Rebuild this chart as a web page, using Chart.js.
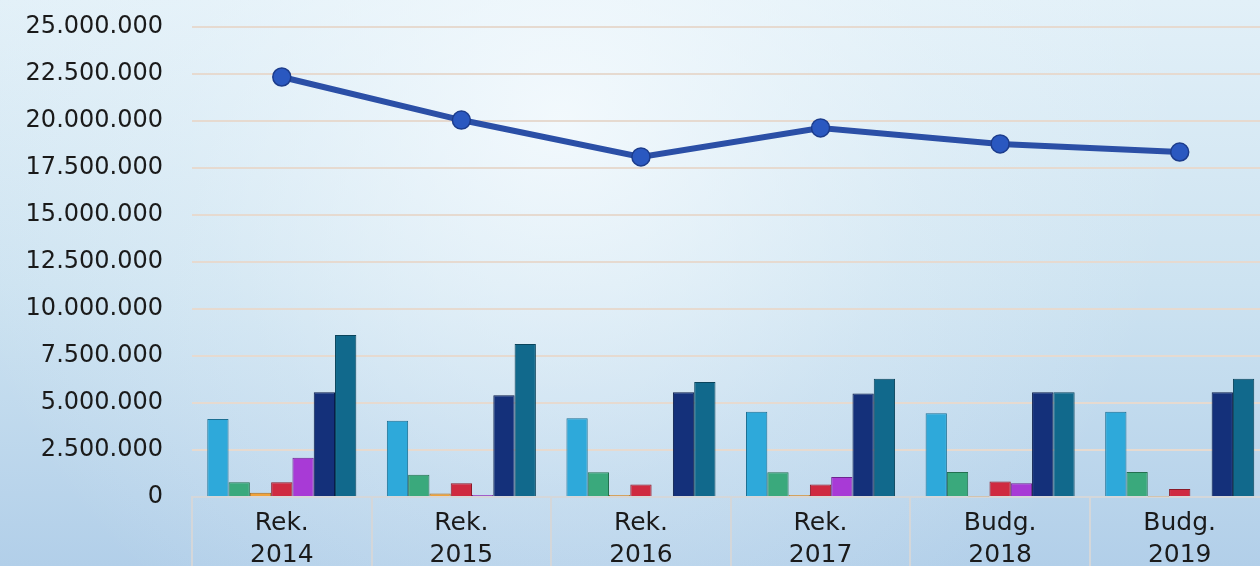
<!DOCTYPE html>
<html>
<head>
<meta charset="utf-8">
<script src="https://cdn.jsdelivr.net/npm/chart.js@4.4.1/dist/chart.umd.min.js"></script>
<style>
  html, body { margin: 0; padding: 0; overflow: hidden; background: #d6e8f4; }
  #wrap { width: 1280px; height: 566px; position: relative; }
</style>
</head>
<body>
<div id="wrap"><canvas id="chart"></canvas></div>
<script>
const categories = [["Rek.", "2014"], ["Rek.", "2015"], ["Rek.", "2016"], ["Rek.", "2017"], ["Budg.", "2018"], ["Budg.", "2019"]];

const serieA = [4150000, 4060000, 4190000, 4540000, 4450000, 4540000];
const serieB = [780000, 1190000, 1310000, 1310000, 1330000, 1330000];
const serieC = [230000, 180000, 100000, 100000, 30000, 30000];
const serieD = [780000, 730000, 670000, 660000, 830000, 430000];
const serieE = [2090000, 100000, 0, 1060000, 730000, 0];
const serieF = [5570000, 5410000, 5570000, 5500000, 5570000, 5570000];
const serieG = [8620000, 8140000, 6120000, 6290000, 5570000, 6290000];
const total = [22340000, 20050000, 18090000, 19630000, 18780000, 18350000];

const yMax = 25000000;
const yStep = 2500000;

const barColors = ["#2ea9da", "#3aa97c", "#f0a23a", "#cf2a40", "#a83ad6", "#14307a", "#11698c"];
const barBorders = ["#1b6f93", "#23704f", "#a56a1c", "#8a1a28", "#6d2490", "#0a1c4a", "#0a445c"];

function formatDots(v) {
  return String(Math.round(v)).replace(/\B(?=(\d{3})+(?!\d))/g, ".");
}

function barGradient(i) {
  return function (context) {
    const chart = context.chart;
    const el = context.element;
    if (!chart.chartArea || !el || el.width === undefined) return barColors[i];
    const x0 = el.x - el.width / 2;
    const g = chart.ctx.createLinearGradient(x0, 0, x0 + el.width, 0);
    g.addColorStop(0, barBorders[i]);
    g.addColorStop(0.18, barColors[i]);
    g.addColorStop(0.82, barColors[i]);
    g.addColorStop(1, barBorders[i]);
    return g;
  };
}

const backgroundPlugin = {
  id: "bg",
  beforeDraw(chart) {
    const { ctx, width, height } = chart;
    ctx.save();
    const g = ctx.createLinearGradient(0, 0, 0, height);
    g.addColorStop(0, "#e2f0f8");
    g.addColorStop(0.5, "#cde3f1");
    g.addColorStop(1, "#b2cfe9");
    ctx.fillStyle = g;
    ctx.fillRect(0, 0, width, height);
    // lighter glow near upper middle
    const r = ctx.createRadialGradient(560, 120, 0, 560, 120, 620);
    r.addColorStop(0, "rgba(246,251,254,0.85)");
    r.addColorStop(0.6, "rgba(240,248,252,0.25)");
    r.addColorStop(1, "rgba(240,248,252,0)");
    ctx.fillStyle = r;
    ctx.fillRect(0, 0, width, height);
    ctx.restore();
  },
};

const cellPlugin = {
  id: "cells",
  afterDraw(chart) {
    const { ctx } = chart;
    const x = chart.scales.x;
    const area = chart.chartArea;
    const half = (x.getPixelForValue(1) - x.getPixelForValue(0)) / 2;
    ctx.save();
    ctx.strokeStyle = "#d4d7da";
    ctx.lineWidth = 2;
    for (let i = 0; i <= categories.length; i++) {
      const px = Math.round(x.getPixelForValue(0) - half + i * half * 2);
      ctx.beginPath();
      ctx.moveTo(px, area.bottom);
      ctx.lineTo(px, chart.height);
      ctx.stroke();
    }
    ctx.restore();
  },
};

const seriesList = [serieA, serieB, serieC, serieD, serieE, serieF, serieG];

const datasets = [
  {
    type: "line",
    label: "I alt",
    data: total,
    borderColor: "#2b4fa6",
    borderWidth: 6,
    pointRadius: 9,
    pointHoverRadius: 9,
    pointBackgroundColor: "#2a58c0",
    pointBorderColor: "#1c3c8c",
    pointBorderWidth: 1.5,
    tension: 0,
    order: 0,
  },
].concat(
  seriesList.map((s, i) => ({
    type: "bar",
    label: "Serie " + (i + 1),
    data: s,
    backgroundColor: barGradient(i),
    borderColor: barBorders[i],
    borderWidth: 1,
    categoryPercentage: 0.83,
    barPercentage: 1.0,
    order: 1,
  }))
);

new Chart(document.getElementById("chart"), {
  data: { labels: categories, datasets: datasets },
  options: {
    responsive: true,
    maintainAspectRatio: false,
    animation: false,
    layout: { padding: { top: 27, left: 0, right: 2, bottom: 0 } },
    plugins: {
      legend: { display: false },
      tooltip: { enabled: false },
    },
    scales: {
      x: {
        grid: { display: false },
        border: { display: true, color: "#d4d7da", width: 2 },
        ticks: {
          color: "#1a1a1a",
          font: { family: "DejaVu Sans", size: 25, lineHeight: 1.28 },
          padding: 2,
          maxRotation: 0,
        },
        afterFit: (scale) => {
          scale.height = 69;
        },
      },
      y: {
        min: 0,
        max: yMax,
        grid: { color: "#e6dad0", lineWidth: 2, drawTicks: true, tickLength: 29, tickColor: "rgba(0,0,0,0)" },
        border: { display: false },
        ticks: {
          stepSize: yStep,
          color: "#1a1a1a",
          font: { family: "DejaVu Sans", size: 24 },
          padding: 0,
          callback: (v) => formatDots(v),
        },
        afterFit: (scale) => {
          scale.width = 192;
        },
      },
    },
  },
  plugins: [backgroundPlugin, cellPlugin],
});
</script>
</body>
</html>
